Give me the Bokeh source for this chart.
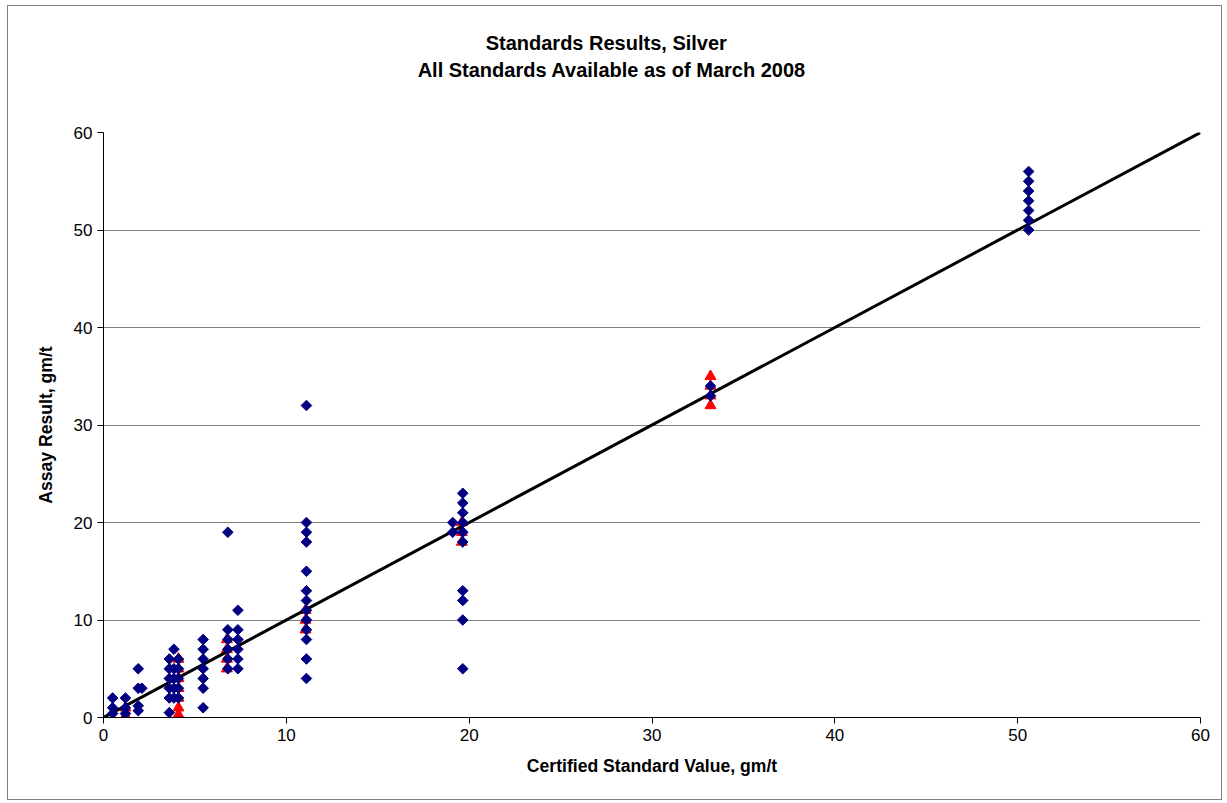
import math
from bokeh.plotting import figure
from bokeh.models import Range1d, FixedTicker, LinearAxis
from bokeh.embed import file_html
from bokeh.resources import INLINE

# ---- data ----
title_line1 = "Standards Results, Silver"
title_line2 = "All Standards Available as of March 2008"
x_label = "Certified Standard Value, gm/t"
y_label = "Assay Result, gm/t"
ticks = [0, 10, 20, 30, 40, 50, 60]

# navy diamonds (assay results)
dia_x = ([0.5] * 3 + [1.2] * 3 + [1.9] * 4 + [2.1]
         + [3.6] * 6 + [3.85] * 5 + [4.1] * 5
         + [5.45] * 7 + [6.8] * 6 + [7.35] * 6
         + [11.1] * 13 + [19.1] * 2 + [19.65] * 10
         + [33.2] * 2 + [50.6] * 7)
dia_y = ([0.4, 1, 2] + [0.4, 1, 2] + [0.7, 1.2, 3, 5] + [3]
         + [0.5, 2, 3, 4, 5, 6] + [2, 3, 4, 5, 7] + [2, 3, 4, 5, 6]
         + [1, 3, 4, 5, 6, 7, 8] + [5, 6, 7, 8, 9, 19] + [5, 6, 7, 8, 9, 11]
         + [4, 6, 8, 9, 10, 11, 12, 13, 15, 18, 19, 20, 32] + [19, 20]
         + [5, 10, 12, 13, 18, 19, 20, 21, 22, 23]
         + [33, 34] + [50, 51, 52, 53, 54, 55, 56])

# red triangles (check assays)
tri_x = ([1.2] * 2 + [4.1] * 7 + [6.75] * 4 + [11.05] * 3
         + [19.6] * 3 + [33.2] * 4)
tri_y = ([0.2, 1] + [0.3, 1, 2, 3, 4, 5, 6] + [5, 6, 7, 8] + [9, 10, 11]
         + [18, 19, 20] + [32, 33, 34, 35])

# 1:1 reference line
line_x = [0, 60]
line_y = [0, 60]

FONT = "Liberation Sans"

p = figure(width=1215, height=795, title=None,
           x_range=Range1d(0, 60), y_range=Range1d(0, 60),
           output_backend="svg", toolbar_location=None,
           min_border_left=95, min_border_right=23,
           min_border_top=126, min_border_bottom=84)
p.styles = {"margin-left": "7px", "margin-top": "5px",
            "border": "1px solid #808080"}

p.background_fill_color = "white"
p.border_fill_color = "white"
p.outline_line_color = None

# axes
for ax in (p.xaxis, p.yaxis):
    ax.ticker = FixedTicker(ticks=ticks)
    ax.minor_tick_line_color = None
    ax.major_tick_in = 0
    ax.major_tick_out = 6
    ax.axis_line_color = "black"
    ax.major_tick_line_color = "black"
    ax.major_label_text_font = FONT
    ax.major_label_text_font_size = "17px"
    ax.major_label_text_color = "black"
    ax.axis_label_text_font = FONT
    ax.axis_label_text_font_size = "17.6px"
    ax.axis_label_text_font_style = "bold"
    ax.axis_label_text_color = "black"

p.xaxis.axis_label = x_label
p.yaxis.axis_label = y_label
p.xaxis.axis_label_standoff = 12
p.yaxis.axis_label_standoff = 15
p.xaxis.major_label_standoff = 5
p.yaxis.major_label_standoff = 5

p.xgrid.grid_line_color = None
p.ygrid.ticker = FixedTicker(ticks=ticks)
p.ygrid.grid_line_color = "#808080"
p.ygrid.grid_line_width = 1

# series
p.scatter(tri_x, tri_y, marker="triangle", size=11,
          fill_color="#FF0000", line_color="#FF0000")
p.line(line_x, line_y, line_color="black", line_width=3)
p.scatter(dia_x, dia_y, marker="square", angle=math.pi / 4, size=7.5,
          fill_color="#000080", line_color="#000080")


# title: two text-only axes above the frame (nearest first)
def title_axis(text, xpos, standoff):
    ax = LinearAxis(ticker=FixedTicker(ticks=[xpos]),
                    major_label_overrides={xpos: text},
                    axis_line_color=None, major_tick_line_color=None,
                    minor_tick_line_color=None,
                    major_tick_in=0, major_tick_out=0,
                    major_label_standoff=standoff,
                    major_label_text_font=FONT,
                    major_label_text_font_size="20px",
                    major_label_text_font_style="bold",
                    major_label_text_color="black")
    p.add_layout(ax, "above")


title_axis(title_line2, 27.8, 52)
title_axis(title_line1, 27.5, 2)

open("out.html", "w").write(file_html(p, INLINE))
